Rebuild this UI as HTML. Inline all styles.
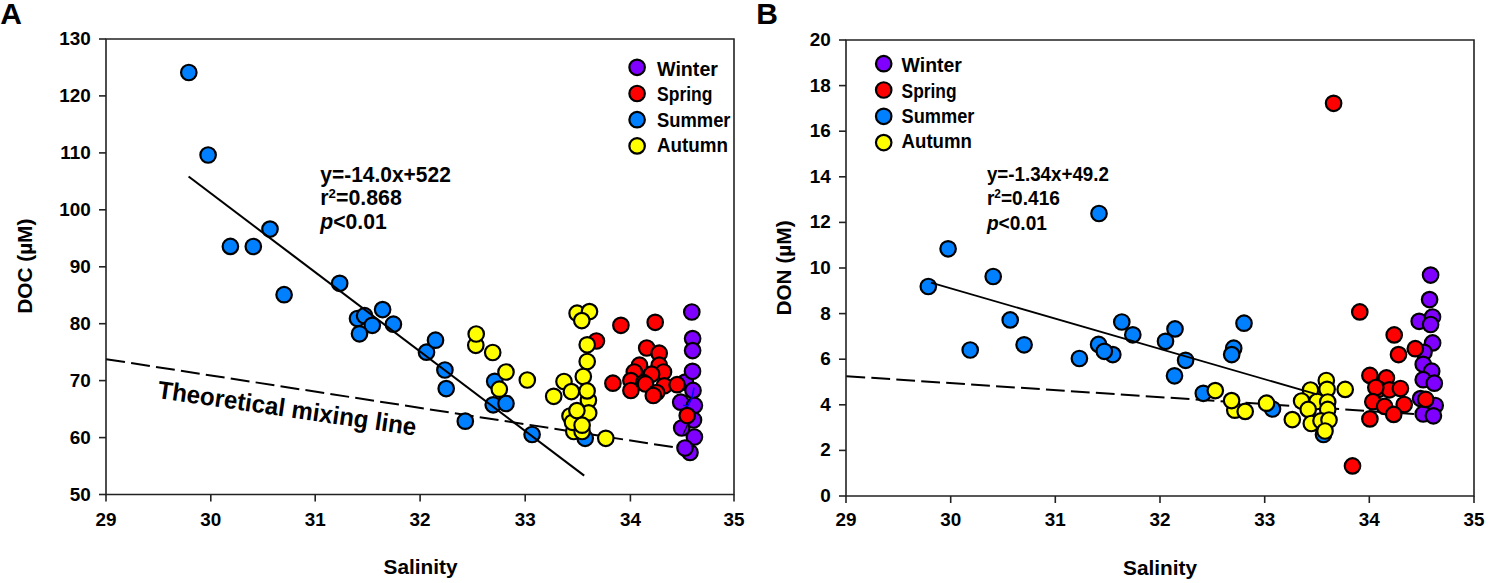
<!DOCTYPE html>
<html><head><meta charset="utf-8"><style>
html,body{margin:0;padding:0;background:#fff;}
body{width:1490px;height:583px;overflow:hidden;}
svg{display:block;}
text{font-family:"Liberation Sans",sans-serif;font-weight:bold;fill:#000;}
.tk{font-size:18.9px;}
.at{font-size:20.8px;}
.pl{font-size:30px;}
.lg{font-size:17.5px;}
.eq{font-size:17.5px;}
.sup{font-size:11px;}
.ml{font-size:24px;}
</style></head><body><svg width="1490" height="583" viewBox="0 0 1490 583"><defs><circle id="o" r="7.75" stroke="#000" stroke-width="2.2"/></defs><rect width="1490" height="583" fill="#fff"/><text x="0.3" y="23.8" class="pl">A</text><text x="756.2" y="23.8" class="pl">B</text><path d="M106.0 39.0 H734.0 V494.5 H106.0 Z" fill="none" stroke="#222" stroke-width="1.6"/><path d="M99.0 39.0 H106.0" stroke="#222" stroke-width="1.6"/><text x="90.8" y="45.0" text-anchor="end" class="tk">130</text><path d="M99.0 95.9 H106.0" stroke="#222" stroke-width="1.6"/><text x="90.8" y="101.9" text-anchor="end" class="tk">120</text><path d="M99.0 152.9 H106.0" stroke="#222" stroke-width="1.6"/><text x="90.8" y="158.9" text-anchor="end" class="tk">110</text><path d="M99.0 209.8 H106.0" stroke="#222" stroke-width="1.6"/><text x="90.8" y="215.8" text-anchor="end" class="tk">100</text><path d="M99.0 266.8 H106.0" stroke="#222" stroke-width="1.6"/><text x="90.8" y="272.8" text-anchor="end" class="tk">90</text><path d="M99.0 323.7 H106.0" stroke="#222" stroke-width="1.6"/><text x="90.8" y="329.7" text-anchor="end" class="tk">80</text><path d="M99.0 380.6 H106.0" stroke="#222" stroke-width="1.6"/><text x="90.8" y="386.6" text-anchor="end" class="tk">70</text><path d="M99.0 437.6 H106.0" stroke="#222" stroke-width="1.6"/><text x="90.8" y="443.6" text-anchor="end" class="tk">60</text><path d="M99.0 494.5 H106.0" stroke="#222" stroke-width="1.6"/><text x="90.8" y="500.5" text-anchor="end" class="tk">50</text><path d="M106.0 494.5 V501.5" stroke="#222" stroke-width="1.6"/><text x="106.0" y="526.3" text-anchor="middle" class="tk">29</text><path d="M210.8 494.5 V501.5" stroke="#222" stroke-width="1.6"/><text x="210.8" y="526.3" text-anchor="middle" class="tk">30</text><path d="M315.2 494.5 V501.5" stroke="#222" stroke-width="1.6"/><text x="315.2" y="526.3" text-anchor="middle" class="tk">31</text><path d="M420.1 494.5 V501.5" stroke="#222" stroke-width="1.6"/><text x="420.1" y="526.3" text-anchor="middle" class="tk">32</text><path d="M525.2 494.5 V501.5" stroke="#222" stroke-width="1.6"/><text x="525.2" y="526.3" text-anchor="middle" class="tk">33</text><path d="M630.4 494.5 V501.5" stroke="#222" stroke-width="1.6"/><text x="630.4" y="526.3" text-anchor="middle" class="tk">34</text><path d="M734.0 494.5 V501.5" stroke="#222" stroke-width="1.6"/><text x="734.0" y="526.3" text-anchor="middle" class="tk">35</text><path d="M846.0 40.0 H1474.0 V496.0 H846.0 Z" fill="none" stroke="#222" stroke-width="1.6"/><path d="M839.0 40.0 H846.0" stroke="#222" stroke-width="1.6"/><text x="830.8" y="46.0" text-anchor="end" class="tk">20</text><path d="M839.0 85.6 H846.0" stroke="#222" stroke-width="1.6"/><text x="830.8" y="91.6" text-anchor="end" class="tk">18</text><path d="M839.0 131.2 H846.0" stroke="#222" stroke-width="1.6"/><text x="830.8" y="137.2" text-anchor="end" class="tk">16</text><path d="M839.0 176.8 H846.0" stroke="#222" stroke-width="1.6"/><text x="830.8" y="182.8" text-anchor="end" class="tk">14</text><path d="M839.0 222.4 H846.0" stroke="#222" stroke-width="1.6"/><text x="830.8" y="228.4" text-anchor="end" class="tk">12</text><path d="M839.0 268.0 H846.0" stroke="#222" stroke-width="1.6"/><text x="830.8" y="274.0" text-anchor="end" class="tk">10</text><path d="M839.0 313.6 H846.0" stroke="#222" stroke-width="1.6"/><text x="830.8" y="319.6" text-anchor="end" class="tk">8</text><path d="M839.0 359.2 H846.0" stroke="#222" stroke-width="1.6"/><text x="830.8" y="365.2" text-anchor="end" class="tk">6</text><path d="M839.0 404.8 H846.0" stroke="#222" stroke-width="1.6"/><text x="830.8" y="410.8" text-anchor="end" class="tk">4</text><path d="M839.0 450.4 H846.0" stroke="#222" stroke-width="1.6"/><text x="830.8" y="456.4" text-anchor="end" class="tk">2</text><path d="M839.0 496.0 H846.0" stroke="#222" stroke-width="1.6"/><text x="830.8" y="502.0" text-anchor="end" class="tk">0</text><path d="M846.0 496.0 V503.0" stroke="#222" stroke-width="1.6"/><text x="846.0" y="526.3" text-anchor="middle" class="tk">29</text><path d="M950.7 496.0 V503.0" stroke="#222" stroke-width="1.6"/><text x="950.7" y="526.3" text-anchor="middle" class="tk">30</text><path d="M1055.3 496.0 V503.0" stroke="#222" stroke-width="1.6"/><text x="1055.3" y="526.3" text-anchor="middle" class="tk">31</text><path d="M1160.0 496.0 V503.0" stroke="#222" stroke-width="1.6"/><text x="1160.0" y="526.3" text-anchor="middle" class="tk">32</text><path d="M1264.7 496.0 V503.0" stroke="#222" stroke-width="1.6"/><text x="1264.7" y="526.3" text-anchor="middle" class="tk">33</text><path d="M1369.3 496.0 V503.0" stroke="#222" stroke-width="1.6"/><text x="1369.3" y="526.3" text-anchor="middle" class="tk">34</text><path d="M1474.0 496.0 V503.0" stroke="#222" stroke-width="1.6"/><text x="1474.0" y="526.3" text-anchor="middle" class="tk">35</text><text x="420.5" y="573.9" text-anchor="middle" class="at">Salinity</text><text x="1160" y="574.5" text-anchor="middle" class="at">Salinity</text><text transform="translate(32.4 266.2) rotate(-90)" text-anchor="middle" class="at">DOC (µM)</text><text transform="translate(790.8 268) rotate(-90)" text-anchor="middle" class="at">DON (µM)</text><path d="M106.2 359.2 L685 449" stroke="#000" stroke-width="2" stroke-dasharray="19 6.2" fill="none"/><path d="M846.4 376.2 L1425 414.8" stroke="#000" stroke-width="2" stroke-dasharray="18.8 6.2" fill="none"/><use href="#o" x="691.8" y="312.0" fill="#8000ff"/><use href="#o" x="692.6" y="338.6" fill="#8000ff"/><use href="#o" x="692.6" y="350.6" fill="#8000ff"/><use href="#o" x="685.3" y="382.1" fill="#8000ff"/><use href="#o" x="692.5" y="371.3" fill="#8000ff"/><use href="#o" x="693.0" y="390.4" fill="#8000ff"/><use href="#o" x="680.7" y="402.2" fill="#8000ff"/><use href="#o" x="694.4" y="405.5" fill="#8000ff"/><use href="#o" x="693.5" y="420.0" fill="#8000ff"/><use href="#o" x="681.7" y="428.0" fill="#8000ff"/><use href="#o" x="694.4" y="437.0" fill="#8000ff"/><use href="#o" x="690.0" y="452.5" fill="#8000ff"/><use href="#o" x="685.0" y="448.0" fill="#8000ff"/><use href="#o" x="596.4" y="341.0" fill="#ff0000"/><use href="#o" x="620.9" y="325.3" fill="#ff0000"/><use href="#o" x="655.2" y="322.3" fill="#ff0000"/><use href="#o" x="646.7" y="348.0" fill="#ff0000"/><use href="#o" x="659.2" y="353.2" fill="#ff0000"/><use href="#o" x="639.5" y="365.2" fill="#ff0000"/><use href="#o" x="659.2" y="365.2" fill="#ff0000"/><use href="#o" x="634.3" y="372.0" fill="#ff0000"/><use href="#o" x="663.5" y="372.0" fill="#ff0000"/><use href="#o" x="651.6" y="374.2" fill="#ff0000"/><use href="#o" x="612.9" y="383.2" fill="#ff0000"/><use href="#o" x="630.9" y="380.6" fill="#ff0000"/><use href="#o" x="643.6" y="382.7" fill="#ff0000"/><use href="#o" x="645.5" y="384.0" fill="#ff0000"/><use href="#o" x="664.3" y="385.8" fill="#ff0000"/><use href="#o" x="677.1" y="384.7" fill="#ff0000"/><use href="#o" x="630.9" y="390.5" fill="#ff0000"/><use href="#o" x="656.6" y="392.6" fill="#ff0000"/><use href="#o" x="653.3" y="395.5" fill="#ff0000"/><use href="#o" x="687.2" y="415.6" fill="#ff0000"/><use href="#o" x="188.8" y="72.5" fill="#0080ff"/><use href="#o" x="208.1" y="155.0" fill="#0080ff"/><use href="#o" x="270.0" y="229.1" fill="#0080ff"/><use href="#o" x="230.4" y="246.4" fill="#0080ff"/><use href="#o" x="253.3" y="246.5" fill="#0080ff"/><use href="#o" x="284.1" y="294.7" fill="#0080ff"/><use href="#o" x="339.7" y="283.3" fill="#0080ff"/><use href="#o" x="357.5" y="318.5" fill="#0080ff"/><use href="#o" x="364.6" y="315.7" fill="#0080ff"/><use href="#o" x="372.3" y="325.3" fill="#0080ff"/><use href="#o" x="359.5" y="333.8" fill="#0080ff"/><use href="#o" x="382.6" y="309.6" fill="#0080ff"/><use href="#o" x="393.4" y="324.2" fill="#0080ff"/><use href="#o" x="426.5" y="352.2" fill="#0080ff"/><use href="#o" x="435.5" y="340.2" fill="#0080ff"/><use href="#o" x="444.9" y="370.0" fill="#0080ff"/><use href="#o" x="446.2" y="388.6" fill="#0080ff"/><use href="#o" x="494.7" y="381.3" fill="#0080ff"/><use href="#o" x="493.2" y="404.8" fill="#0080ff"/><use href="#o" x="506.0" y="403.5" fill="#0080ff"/><use href="#o" x="465.3" y="421.2" fill="#0080ff"/><use href="#o" x="532.1" y="434.5" fill="#0080ff"/><use href="#o" x="585.2" y="438.3" fill="#0080ff"/><use href="#o" x="475.8" y="345.3" fill="#ffff00"/><use href="#o" x="476.2" y="334.0" fill="#ffff00"/><use href="#o" x="492.7" y="352.5" fill="#ffff00"/><use href="#o" x="506.0" y="372.0" fill="#ffff00"/><use href="#o" x="499.3" y="389.2" fill="#ffff00"/><use href="#o" x="527.3" y="380.0" fill="#ffff00"/><use href="#o" x="553.7" y="396.3" fill="#ffff00"/><use href="#o" x="564.0" y="381.5" fill="#ffff00"/><use href="#o" x="577.1" y="313.2" fill="#ffff00"/><use href="#o" x="589.5" y="311.6" fill="#ffff00"/><use href="#o" x="581.8" y="320.6" fill="#ffff00"/><use href="#o" x="587.2" y="344.8" fill="#ffff00"/><use href="#o" x="587.2" y="361.5" fill="#ffff00"/><use href="#o" x="583.3" y="376.5" fill="#ffff00"/><use href="#o" x="571.4" y="391.6" fill="#ffff00"/><use href="#o" x="588.4" y="400.2" fill="#ffff00"/><use href="#o" x="587.1" y="390.9" fill="#ffff00"/><use href="#o" x="573.8" y="431.5" fill="#ffff00"/><use href="#o" x="582.1" y="431.5" fill="#ffff00"/><use href="#o" x="570.0" y="416.0" fill="#ffff00"/><use href="#o" x="572.5" y="422.3" fill="#ffff00"/><use href="#o" x="588.7" y="412.9" fill="#ffff00"/><use href="#o" x="576.9" y="410.6" fill="#ffff00"/><use href="#o" x="582.1" y="425.2" fill="#ffff00"/><use href="#o" x="605.8" y="438.3" fill="#ffff00"/><use href="#o" x="1430.6" y="275.1" fill="#8000ff"/><use href="#o" x="1429.6" y="299.6" fill="#8000ff"/><use href="#o" x="1419.2" y="321.3" fill="#8000ff"/><use href="#o" x="1432.5" y="317.0" fill="#8000ff"/><use href="#o" x="1430.6" y="324.5" fill="#8000ff"/><use href="#o" x="1432.6" y="342.9" fill="#8000ff"/><use href="#o" x="1424.0" y="352.3" fill="#8000ff"/><use href="#o" x="1423.2" y="364.3" fill="#8000ff"/><use href="#o" x="1431.7" y="371.2" fill="#8000ff"/><use href="#o" x="1423.2" y="379.7" fill="#8000ff"/><use href="#o" x="1434.3" y="383.2" fill="#8000ff"/><use href="#o" x="1420.6" y="398.6" fill="#8000ff"/><use href="#o" x="1435.2" y="405.5" fill="#8000ff"/><use href="#o" x="1423.2" y="414.0" fill="#8000ff"/><use href="#o" x="1433.4" y="415.8" fill="#8000ff"/><use href="#o" x="1333.6" y="103.3" fill="#ff0000"/><use href="#o" x="1359.8" y="311.9" fill="#ff0000"/><use href="#o" x="1394.2" y="334.9" fill="#ff0000"/><use href="#o" x="1415.3" y="348.7" fill="#ff0000"/><use href="#o" x="1398.5" y="354.6" fill="#ff0000"/><use href="#o" x="1369.9" y="375.4" fill="#ff0000"/><use href="#o" x="1386.4" y="377.9" fill="#ff0000"/><use href="#o" x="1378.8" y="389.3" fill="#ff0000"/><use href="#o" x="1389.4" y="389.8" fill="#ff0000"/><use href="#o" x="1400.4" y="388.5" fill="#ff0000"/><use href="#o" x="1375.8" y="387.5" fill="#ff0000"/><use href="#o" x="1372.8" y="401.7" fill="#ff0000"/><use href="#o" x="1384.6" y="406.4" fill="#ff0000"/><use href="#o" x="1404.2" y="404.5" fill="#ff0000"/><use href="#o" x="1393.7" y="414.4" fill="#ff0000"/><use href="#o" x="1369.9" y="418.9" fill="#ff0000"/><use href="#o" x="1425.7" y="399.4" fill="#ff0000"/><use href="#o" x="1352.5" y="465.9" fill="#ff0000"/><use href="#o" x="948.1" y="248.8" fill="#0080ff"/><use href="#o" x="993.2" y="276.5" fill="#0080ff"/><use href="#o" x="928.3" y="286.5" fill="#0080ff"/><use href="#o" x="1010.2" y="319.9" fill="#0080ff"/><use href="#o" x="970.2" y="350.0" fill="#0080ff"/><use href="#o" x="1024.1" y="344.8" fill="#0080ff"/><use href="#o" x="1079.4" y="358.5" fill="#0080ff"/><use href="#o" x="1099.0" y="213.5" fill="#0080ff"/><use href="#o" x="1121.8" y="322.0" fill="#0080ff"/><use href="#o" x="1132.8" y="334.8" fill="#0080ff"/><use href="#o" x="1098.6" y="344.4" fill="#0080ff"/><use href="#o" x="1112.8" y="354.6" fill="#0080ff"/><use href="#o" x="1104.3" y="351.3" fill="#0080ff"/><use href="#o" x="1175.0" y="328.9" fill="#0080ff"/><use href="#o" x="1165.5" y="341.3" fill="#0080ff"/><use href="#o" x="1185.6" y="360.3" fill="#0080ff"/><use href="#o" x="1174.5" y="375.8" fill="#0080ff"/><use href="#o" x="1244.0" y="323.2" fill="#0080ff"/><use href="#o" x="1233.7" y="348.2" fill="#0080ff"/><use href="#o" x="1231.7" y="354.6" fill="#0080ff"/><use href="#o" x="1203.3" y="393.3" fill="#0080ff"/><use href="#o" x="1272.5" y="409.0" fill="#0080ff"/><use href="#o" x="1323.5" y="434.5" fill="#0080ff"/><use href="#o" x="1234.8" y="410.2" fill="#ffff00"/><use href="#o" x="1215.3" y="390.6" fill="#ffff00"/><use href="#o" x="1231.6" y="400.6" fill="#ffff00"/><use href="#o" x="1245.2" y="411.4" fill="#ffff00"/><use href="#o" x="1266.5" y="403.2" fill="#ffff00"/><use href="#o" x="1292.3" y="419.6" fill="#ffff00"/><use href="#o" x="1326.3" y="380.5" fill="#ffff00"/><use href="#o" x="1327.1" y="389.3" fill="#ffff00"/><use href="#o" x="1345.2" y="389.4" fill="#ffff00"/><use href="#o" x="1310.5" y="390.0" fill="#ffff00"/><use href="#o" x="1301.6" y="401.0" fill="#ffff00"/><use href="#o" x="1317.1" y="401.5" fill="#ffff00"/><use href="#o" x="1327.7" y="402.0" fill="#ffff00"/><use href="#o" x="1308.2" y="409.4" fill="#ffff00"/><use href="#o" x="1327.7" y="409.4" fill="#ffff00"/><use href="#o" x="1311.3" y="423.5" fill="#ffff00"/><use href="#o" x="1321.0" y="420.8" fill="#ffff00"/><use href="#o" x="1329.0" y="420.0" fill="#ffff00"/><use href="#o" x="1325.0" y="431.0" fill="#ffff00"/><path d="M694 387.5 L692 397.8 L687.9 406 L683 405.3" stroke="#0000ff" stroke-width="1.6" fill="none"/><path d="M688.5 422.5 L683 434.8" stroke="#000" stroke-width="1.3" fill="none"/><path d="M188.6 176.5 L584.2 475.6" stroke="#000" stroke-width="2.1" fill="none"/><path d="M930.9 282.6 L1317 394.4" stroke="#000" stroke-width="1.8" fill="none"/><use href="#o" x="637.1" y="67.3" fill="#8000ff"/><text x="657.0" y="75.9" font-size="19.5" textLength="61.0" lengthAdjust="spacingAndGlyphs">Winter</text><use href="#o" x="637.1" y="93.5" fill="#ff0000"/><text x="657.0" y="101.4" font-size="19.5" textLength="55.5" lengthAdjust="spacingAndGlyphs">Spring</text><use href="#o" x="637.1" y="119.7" fill="#0080ff"/><text x="657.0" y="126.9" font-size="19.5" textLength="73.5" lengthAdjust="spacingAndGlyphs">Summer</text><use href="#o" x="637.1" y="145.9" fill="#ffff00"/><text x="657.0" y="152.4" font-size="19.5" textLength="71.0" lengthAdjust="spacingAndGlyphs">Autumn</text><use href="#o" x="883.7" y="63.7" fill="#8000ff"/><text x="901.6" y="72.2" font-size="19.3" textLength="60.3" lengthAdjust="spacingAndGlyphs">Winter</text><use href="#o" x="883.7" y="90.0" fill="#ff0000"/><text x="901.6" y="97.5" font-size="19.3" textLength="55.0" lengthAdjust="spacingAndGlyphs">Spring</text><use href="#o" x="883.7" y="116.3" fill="#0080ff"/><text x="901.6" y="122.8" font-size="19.3" textLength="72.8" lengthAdjust="spacingAndGlyphs">Summer</text><use href="#o" x="883.7" y="142.6" fill="#ffff00"/><text x="901.6" y="148.1" font-size="19.3" textLength="70.3" lengthAdjust="spacingAndGlyphs">Autumn</text><text x="320.3" y="181.7" font-size="21.3" textLength="130.5" lengthAdjust="spacingAndGlyphs">y=-14.0x+522</text><text x="320.3" y="205.3" font-size="21.3" textLength="81.5" lengthAdjust="spacingAndGlyphs">r<tspan font-size="13.2" dy="-7.7">2</tspan><tspan dy="7.7">=0.868</tspan></text><text x="320.3" y="229.3" font-size="21.3" textLength="66.5" lengthAdjust="spacingAndGlyphs"><tspan font-style="italic">p</tspan>&lt;0.01</text><text x="986.9" y="181.4" font-size="19.5" textLength="122.0" lengthAdjust="spacingAndGlyphs">y=-1.34x+49.2</text><text x="986.9" y="205.0" font-size="19.5" textLength="73.0" lengthAdjust="spacingAndGlyphs">r<tspan font-size="12.1" dy="-7.0">2</tspan><tspan dy="7.0">=0.416</tspan></text><text x="986.9" y="229.5" font-size="19.5" textLength="60.0" lengthAdjust="spacingAndGlyphs"><tspan font-style="italic">p</tspan>&lt;0.01</text><text transform="translate(156.7 397.9) rotate(8.3)" font-size="25" textLength="261" lengthAdjust="spacingAndGlyphs">Theoretical mixing line</text></svg></body></html>
